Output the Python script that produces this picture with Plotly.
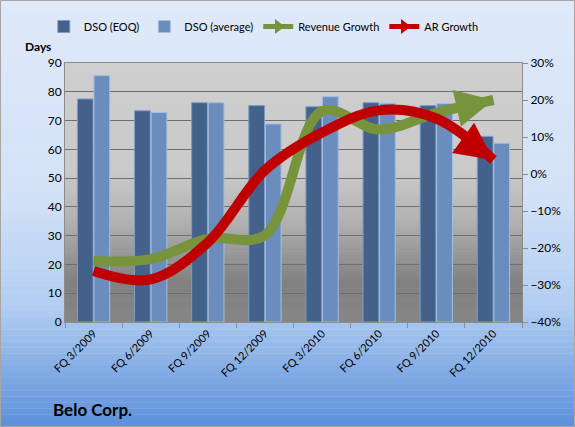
import math
import plotly.graph_objects as go

categories = ["FQ 3/2009", "FQ 6/2009", "FQ 9/2009", "FQ 12/2009",
              "FQ 3/2010", "FQ 6/2010", "FQ 9/2010", "FQ 12/2010"]
dso_eoq = [77.5, 73.4, 76.2, 75.2, 74.8, 76.2, 75.2, 64.5]
dso_avg = [85.6, 72.8, 76.2, 68.8, 78.3, 76.0, 75.9, 62.1]
revenue_growth = [-0.235, -0.23, -0.175, -0.165, 0.17, 0.12, 0.165, 0.20]
ar_growth = [-0.262, -0.285, -0.185, 0.01, 0.112, 0.172, 0.15, 0.038]

FONT = "Lato"
ML, MR, MT, MB = 65, 53, 63, 105
W, H = 575, 427
PW, PH = W - ML - MR, H - MT - MB
Y2_RANGE = [-0.4, 0.3]


def hex2rgb(h):
    h = h.lstrip("#")
    return [int(h[i:i + 2], 16) for i in (0, 2, 4)]


def interp(stops, t):
    for (t0, c0), (t1, c1) in zip(stops, stops[1:]):
        if t0 <= t <= t1:
            f = 0 if t1 == t0 else (t - t0) / (t1 - t0)
            a, b = hex2rgb(c0), hex2rgb(c1)
            return "rgb(%d,%d,%d)" % tuple(round(a[i] + (b[i] - a[i]) * f) for i in range(3))
    return stops[-1][1]


shapes = []
# figure background gradient (top -> bottom)
bg_stops = [(0, "#dfe9f9"), (0.45, "#d3e2f7"), (0.72, "#b2cdf1"), (1.0, "#5b8fda")]
N = 70
x0p, x1p = -ML / PW, 1 + MR / PW
ytop, ybot = 1 + MT / PH, -MB / PH
for i in range(N):
    t = (i + 0.5) / N
    ya = ytop + (ybot - ytop) * i / N
    yb = ytop + (ybot - ytop) * (i + 1) / N
    shapes.append(dict(type="rect", xref="paper", yref="paper", x0=x0p, x1=x1p,
                       y0=yb, y1=ya + 0.001, fillcolor=interp(bg_stops, t),
                       line=dict(width=0), layer="below"))
# plot-area gradient
pa_stops = [(0, "#cecece"), (0.42, "#cacaca"), (0.62, "#b0b0b0"), (0.85, "#808080"), (1.0, "#868686")]
for i in range(N):
    t = (i + 0.5) / N
    ya = 1 - i / N
    yb = 1 - (i + 1) / N
    shapes.append(dict(type="rect", xref="x domain", yref="y domain", x0=0, x1=1,
                       y0=yb, y1=ya + 0.002, fillcolor=interp(pa_stops, t),
                       line=dict(width=0), layer="below"))
# outer border
shapes.append(dict(type="rect", xref="paper", yref="paper", x0=x0p + 0.5 / PW, x1=x1p - 0.5 / PW,
                   y0=ybot + 0.5 / PH, y1=ytop - 0.5 / PH, line=dict(color="#a6a6a6", width=1),
                   fillcolor="rgba(0,0,0,0)", layer="above"))

fig = go.Figure()
fig.add_trace(go.Bar(x=categories, y=dso_eoq, name="DSO (EOQ)",
                     marker=dict(color="#43618b", line=dict(color="#7f9cc4", width=1))))
fig.add_trace(go.Bar(x=categories, y=dso_avg, name="DSO (average)",
                     marker=dict(color="#6b8dbd", line=dict(color="#a4bde0", width=1))))

n = len(categories)
annotations = []
for vals, col, nm in [(revenue_growth, "#77933c", "Revenue Growth"), (ar_growth, "#c00000", "AR Growth")]:
    fig.add_trace(go.Scatter(
        x=categories, y=vals, yaxis="y2", mode="lines", showlegend=False,
        line=dict(color=col, width=10, shape="spline", smoothing=1.0, backoff=18),
        hoverinfo="skip"))
    fig.add_trace(go.Scatter(
        x=[None], y=[None], yaxis="y2", mode="lines+markers", name=nm,
        line=dict(color=col, width=5),
        marker=dict(symbol="triangle-right", size=13, color=col)))
    # arrow head at the last point, oriented along the final segment
    dxp = PW / n
    dyp = -(vals[-1] - vals[-2]) / (Y2_RANGE[1] - Y2_RANGE[0]) * PH
    ln = math.hypot(dxp, dyp)
    L = 36
    annotations.append(dict(
        x=categories[-1], y=vals[-1], xref="x", yref="y2", text="",
        showarrow=True, arrowhead=2, arrowsize=0.75, arrowwidth=10, arrowcolor=col,
        ax=-L * dxp / ln, ay=-L * dyp / ln, standoff=0))

axis_font = dict(family=FONT, size=12, color="#000000")
annotations += [
    dict(text="<b>Days</b>", xref="paper", yref="paper", x=(38 - ML) / PW, y=1 + (MT - 47) / PH,
         xanchor="center", yanchor="middle", showarrow=False, font=dict(family=FONT, size=12)),
    dict(text="<b>Belo Corp.</b>", xref="paper", yref="paper", x=(51 - ML) / PW,
         y=-(409 - MT - PH) / PH, xanchor="left", yanchor="middle", showarrow=False,
         font=dict(family=FONT, size=17)),
]

fig.update_layout(
    width=W, height=H,
    margin=dict(l=ML, r=MR, t=MT, b=MB, autoexpand=False),
    paper_bgcolor="#dfe9f9",
    plot_bgcolor="#c8c8c8",
    barmode="group", bargap=0.42, bargroupgap=0.05,
    font=dict(family=FONT, size=11, color="#000000"),
    showlegend=True,
    legend=dict(orientation="h", x=0.435, xanchor="center", y=1 + (MT - 12) / PH, yanchor="top",
                bgcolor="rgba(0,0,0,0)", font=dict(family=FONT, size=11), itemwidth=30,
                traceorder="normal"),
    xaxis=dict(tickangle=-45, tickfont=dict(family=FONT, size=11), ticks="outside",
               tickson="boundaries", ticklen=5, tickcolor="#8c8c8c",
               showline=True, linecolor="#8c8c8c", mirror=True, showgrid=False),
    yaxis=dict(range=[0, 90], dtick=10, tickfont=axis_font, showgrid=True,
               gridcolor="#6e6e6e", gridwidth=1, showline=True, linecolor="#8c8c8c",
               mirror=True, ticks="", zeroline=False),
    yaxis2=dict(range=Y2_RANGE, dtick=0.1, tickformat=".0%", overlaying="y", side="right",
                tickfont=axis_font, showgrid=False, ticks="outside", ticklen=5,
                tickcolor="#8c8c8c", showline=True, linecolor="#8c8c8c", zeroline=False),
    shapes=shapes,
    annotations=annotations,
)

fig.write_html("out.html")
